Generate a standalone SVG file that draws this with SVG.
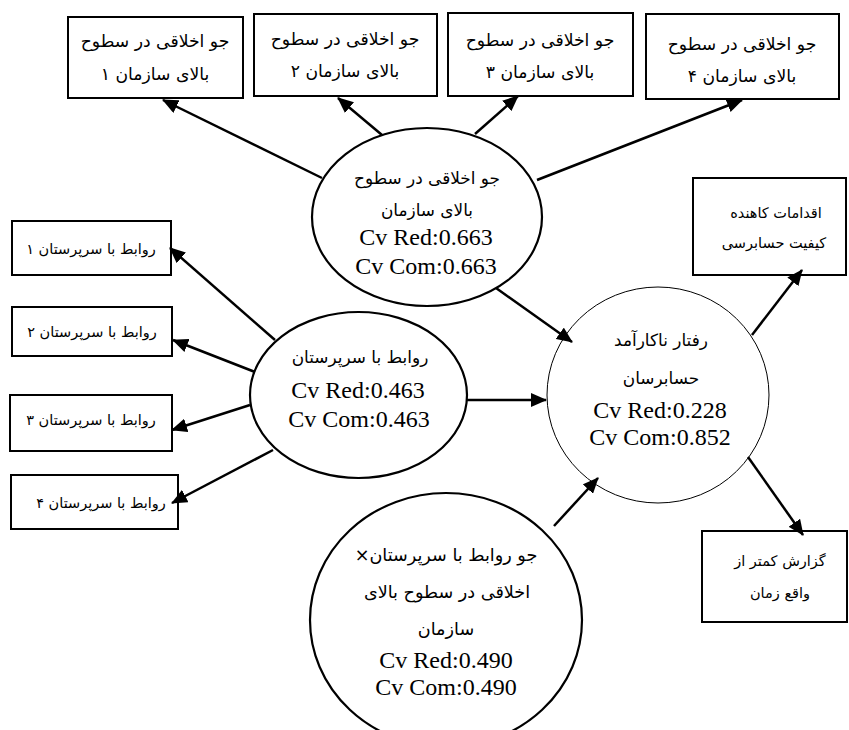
<svg xmlns="http://www.w3.org/2000/svg" width="849" height="730" viewBox="0 0 849 730">
<style>
.box{fill:#fff;stroke:#000;stroke-width:2}
.ell{fill:#fff;stroke:#000;stroke-width:2.2}
.circ{fill:#fff;stroke:#000;stroke-width:1}
.fa{font-family:"DejaVu Sans",sans-serif;direction:rtl;text-anchor:middle;fill:#000}
.f16{font-size:17.2px}
.f17{font-size:16.9px}
.fb{font-size:17.6px}
.f14{font-size:14.5px}
.en{font-family:"Liberation Serif",serif;font-size:24px;text-anchor:middle;fill:#000}
.con line{stroke:#000;stroke-width:2.5;marker-end:url(#ah)}
</style>
<defs>
<marker id="ah" markerUnits="userSpaceOnUse" markerWidth="16" markerHeight="14" refX="15" refY="7" orient="auto" viewBox="0 0 16 14">
<path d="M0,0 L16,7 L0,14 z" fill="#000"/>
</marker>
</defs>
<g id="box1"><rect class="box" x="68" y="17" width="175" height="81"/>
<text class="fa f16" x="155" y="47">جو اخلاقی در سطوح</text>
<text class="fa f16" x="155" y="80">بالای سازمان ۱</text></g>
<g id="box2"><rect class="box" x="254" y="14" width="183" height="82"/>
<text class="fa f16" x="345" y="45">جو اخلاقی در سطوح</text>
<text class="fa f16" x="345" y="77">بالای سازمان ۲</text></g>
<g id="box3"><rect class="box" x="448" y="13" width="185" height="83"/>
<text class="fa f16" x="540" y="46">جو اخلاقی در سطوح</text>
<text class="fa f16" x="540" y="78">بالای سازمان ۳</text></g>
<g id="box4"><rect class="box" x="646" y="14" width="193" height="85"/>
<text class="fa f16" x="742" y="50">جو اخلاقی در سطوح</text>
<text class="fa f16" x="742" y="82">بالای سازمان ۴</text></g>
<g id="top-ellipse"><ellipse class="ell" cx="427" cy="217" rx="115" ry="89"/>
<text class="fa f17" x="427" y="184">جو اخلاقی در سطوح</text>
<text class="fa f17" x="427" y="216">بالای سازمان</text>
<text class="en" x="426" y="245">Cv Red:0.663</text>
<text class="en" x="426" y="274">Cv Com:0.663</text></g>
<g id="rel1"><rect class="box" x="12" y="221" width="159" height="54"/>
<text class="fa f14" x="91" y="254">روابط با سرپرستان ۱</text></g>
<g id="rel2"><rect class="box" x="12" y="307" width="160" height="49"/>
<text class="fa f14" x="92" y="337">روابط با سرپرستان ۲</text></g>
<g id="rel3"><rect class="box" x="10" y="395" width="162" height="56"/>
<text class="fa f14" x="91" y="425">روابط با سرپرستان ۳</text></g>
<g id="rel4"><rect class="box" x="11" y="475" width="167" height="54"/>
<text class="fa f14" x="101" y="508">روابط با سرپرستان ۴</text></g>
<g id="mid-ellipse"><ellipse class="ell" cx="358.5" cy="395" rx="108.5" ry="83"/>
<text class="fa f17" x="360" y="363">روابط با سرپرستان</text>
<text class="en" x="358" y="398">Cv Red:0.463</text>
<text class="en" x="359" y="427">Cv Com:0.463</text></g>
<g id="outcome"><ellipse class="circ" cx="658" cy="395" rx="111" ry="108"/>
<text class="fa f17" x="661" y="346">رفتار ناکارآمد</text>
<text class="fa f17" x="661" y="384">حسابرسان</text>
<text class="en" x="660" y="418">Cv Red:0.228</text>
<text class="en" x="660" y="445">Cv Com:0.852</text></g>
<g id="interaction"><ellipse class="ell" cx="446" cy="620" rx="136" ry="127"/>
<text class="fa fb" x="446" y="561">جو  روابط با سرپرستان×</text>
<text class="fa fb" x="447" y="598">اخلاقی در سطوح بالای</text>
<text class="fa fb" x="446" y="635">سازمان</text>
<text class="en" x="446" y="668">Cv Red:0.490</text>
<text class="en" x="446" y="695">Cv Com:0.490</text></g>
<g id="quality"><rect class="box" x="693" y="178" width="153" height="97"/>
<text class="fa f14" x="776" y="218">اقدامات کاهنده</text>
<text class="fa f14" x="774" y="248">کیفیت حسابرسی</text></g>
<g id="underreport"><rect class="box" x="702" y="531" width="145" height="91"/>
<text class="fa f14" x="780" y="566">گزارش کمتر از</text>
<text class="fa f14" x="780" y="598">واقع زمان</text></g>
<g class="con" id="connectors">
<line x1="322" y1="178" x2="163" y2="100"/>
<line x1="382" y1="135" x2="338" y2="98"/>
<line x1="475" y1="134" x2="518" y2="96"/>
<line x1="537" y1="180" x2="742" y2="100"/>
<line x1="496" y1="288" x2="572" y2="342"/>
<line x1="467" y1="400" x2="546" y2="400"/>
<line x1="554" y1="526" x2="598" y2="478"/>
<line x1="752" y1="335" x2="802" y2="270"/>
<line x1="748" y1="457" x2="803" y2="535"/>
<line x1="275" y1="340" x2="170" y2="248"/>
<line x1="255" y1="372" x2="173" y2="340"/>
<line x1="250" y1="405" x2="172" y2="430"/>
<line x1="273" y1="450" x2="172" y2="503"/>
</g>
</svg>
